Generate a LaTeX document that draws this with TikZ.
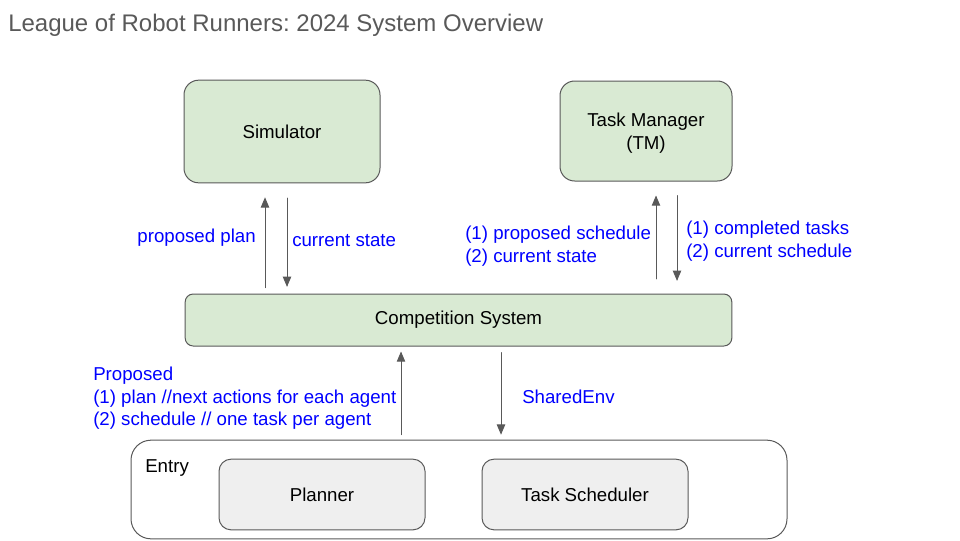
\documentclass[tikz,border=0pt]{standalone}
\usepackage{fontspec}
\setmainfont{Liberation Sans}
\usetikzlibrary{arrows}
\frenchspacing

\definecolor{boxgreen}{HTML}{D9EAD3}
\definecolor{boxgray}{HTML}{EFEFEF}
\definecolor{linegray}{HTML}{595959}
\definecolor{titlegray}{HTML}{595959}
\definecolor{labelblue}{HTML}{0000FF}

\begin{document}
\begin{tikzpicture}[line cap=round,line join=round,>=triangle 45,x=0.75pt,y=-0.75pt,
		every node/.style={font=\fontsize{14}{16.9}\selectfont},
		greenbox/.style={draw=linegray,fill=boxgreen,rounded corners=11pt,line width=0.75pt,align=center},
		graybox/.style={draw=linegray,fill=boxgray,rounded corners=9pt,line width=0.75pt},
		flow/.style={->,draw=linegray,line width=0.75pt},
		lbl/.style={text=labelblue,inner sep=0pt,align=left}]
		\useasboundingbox (0,0) rectangle (960,540);
		
		\node[anchor=base west,inner sep=0pt,text=titlegray,font=\fontsize{18}{21}\selectfont] (title) at (8,31.5) {League of Robot Runners: 2024 System Overview};
		
		% boxes
		\node[greenbox,minimum width=147pt,minimum height=77pt] (sim) at (282,131.5) {Simulator};
		\node[greenbox,minimum width=129pt,minimum height=75pt,text depth=-3pt] (tm) at (646,131) {Task Manager\\(TM)};
		\node[greenbox,rounded corners=6pt,minimum width=410pt,minimum height=39pt] (comp) at (458.5,320) {Competition System};
		\node[draw=linegray,line width=0.75pt,rounded corners=15pt,minimum width=492pt,minimum height=74pt] (entry) at (459,489.5) {};
		\node[anchor=mid west,inner sep=0pt] (entrylbl) at (145,468.5) {Entry};
		\node[graybox,minimum width=154.5pt,minimum height=53pt] (plan) at (322,494.5) {Planner};
		\node[graybox,minimum width=154.5pt,minimum height=53pt] (sched) at (585,494.5) {Task Scheduler};
		
		% arrow columns
		\coordinate (simup) at (265,0);
		\coordinate (simdown) at (287,0);
		\coordinate (tmup) at (656,0);
		\coordinate (tmdown) at (677,0);
		\coordinate (entryup) at (401,0);
		\coordinate (entrydown) at (501,0);
		
		\draw[flow,shorten <=4.5pt,shorten >=10.5pt] (comp.north -| simup) -- (sim.south -| simup);
		\draw[flow,shorten <=11pt,shorten >=5pt] (sim.south -| simdown) -- (comp.north -| simdown);
		\draw[flow,shorten <=11pt,shorten >=10.5pt] (comp.north -| tmup) -- (tm.south -| tmup);
		\draw[flow,shorten <=10.5pt,shorten >=9.5pt] (tm.south -| tmdown) -- (comp.north -| tmdown);
		\draw[flow,shorten <=3.75pt,shorten >=3.75pt] (entry.north -| entryup) -- (comp.south -| entryup);
		\draw[flow,shorten <=4.5pt,shorten >=3.75pt] (comp.south -| entrydown) -- (entry.north -| entrydown);
		
		% labels
		\node[lbl,anchor=mid east] (plbl) at (256,239) {proposed plan};
		\node[lbl,anchor=mid west] (cslbl) at (292,243) {current state};
		\node[lbl,anchor=west] (tmlbl) at (465,246) {(1) proposed schedule\\(2) current state};
		\node[lbl,anchor=west] (tmback) at (686,241) {(1) completed tasks\\(2) current schedule};
		\node[lbl,anchor=west] (proplbl) at (93,398.5) {Proposed\\(1) plan //next actions for each agent\\(2) schedule // one task per agent};
		\node[lbl,anchor=mid west] (envlbl) at (522,400) {SharedEnv};
	\end{tikzpicture}
\end{document}
